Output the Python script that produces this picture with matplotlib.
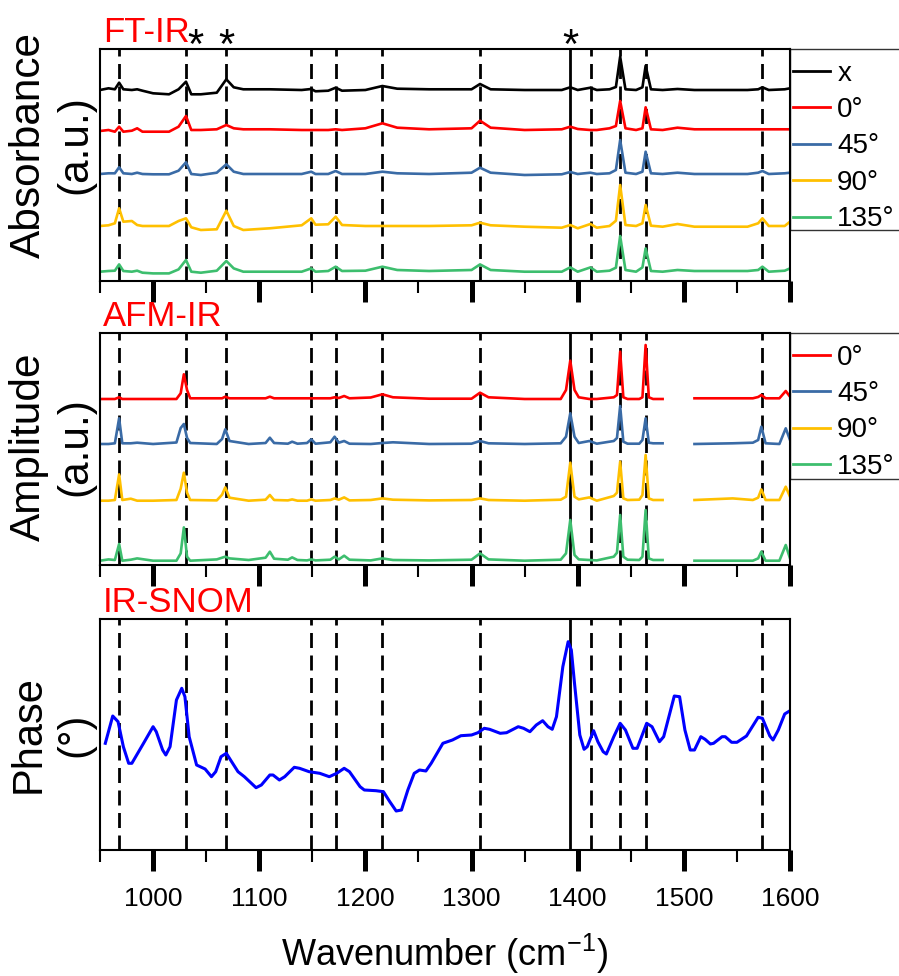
"""
plot.py
--------
Polarisation-dependent vibrational spectra: FT-IR absorbance, AFM-IR amplitude
and IR-SNOM phase, stacked on a shared wavenumber axis.

Output: out.png
"""

import matplotlib
matplotlib.use("Agg")  # headless
import matplotlib.pyplot as plt
import matplotlib.transforms as mtransforms
from matplotlib.patches import Rectangle
from matplotlib.ticker import MultipleLocator
import numpy as np

plt.rcParams["font.family"] = ["Liberation Sans", "DejaVu Sans"]
plt.rcParams["mathtext.fontset"] = "custom"
plt.rcParams["mathtext.rm"] = "Liberation Sans"
plt.rcParams["mathtext.default"] = "regular"

NAN = float("nan")

# ──────────────────────────────────────────────
# FT-IR (absorbance above each trace's own baseline, a.u.)
# ──────────────────────────────────────────────
FTIR_WN = [950, 958, 964, 968, 972, 980, 985, 990, 1000, 1015,
           1024, 1031, 1036, 1045, 1060, 1069, 1076, 1085, 1110, 1140,
           1149, 1153, 1165, 1172, 1178, 1200, 1216, 1230, 1260, 1300,
           1308, 1318, 1350, 1385, 1393, 1400, 1412, 1418, 1430, 1436,
           1440, 1445, 1455, 1461, 1464, 1469, 1480, 1494, 1510, 1560,
           1570, 1574, 1580, 1595, 1600]

FTIR_X = [0, 1.7, 0.7, 7.3, 0.7, 0, 0.7, -0.7, -3.3, -4.3,
          0.7, 8.3, -4.3, -4.3, -2.7, 10.7, 2.7, 0.7, 0.7, 0,
          1, -1.3, -0.7, 2.3, -0.7, 0, 4, 1.3, 0.7, 0.7,
          6, 0.7, 0, 0, 2.7, 0, 2.3, 0, 0.7, 3,
          33.3, 0.7, 0, 2.7, 24.3, 0.7, 0, 1, 0, 0,
          0.7, 2.7, 0, 0.7, 1.7]
FTIR_0 = [-1, 0, -1.7, 3.3, -1.7, -0.7, 1.7, -1.7, -1.7, -1.7,
          3.3, 14, 0, 0, 0.7, 5, 1.7, 0.7, 0.7, 0,
          0, 0, 0, 0.7, 0, 1.7, 6.7, 2.3, 0.7, 1.7,
          9.3, 2.3, 0, 0.7, 3.3, 1, 0, 0, 1.7, 4,
          29, 1.7, 0, 1.7, 22.7, 0.7, 0, 2.3, 0.7, 0.7,
          0.7, 0.7, 0.7, 0.7, 0.7]
FTIR_45 = [0, 0.7, 0.7, 6.7, 0.7, 0, 1.3, 0, -0.3, -0.3,
           3.3, 11.7, 0, -1, 1.3, 9.7, 2.3, 0, 0, 0,
           2.3, 0, 0, 3, 0, 0, 2.3, 0.7, 0, 1.3,
           6.3, 1.3, -1, -0.3, 2, 0, 1.3, 0, 0.7, 4,
           34, 1.3, 0, 2.3, 22.3, 0.7, 0, 1.3, 0, 0,
           1.3, 3, 0, 0.7, 1.3]
FTIR_90 = [0, 0.7, 2.7, 17.7, 4.3, 5, 1, 0, 0, 0,
           5, 7.7, -1.3, -4, -3.3, 15.3, 0, -4, -2.3, 0.7,
           7.7, 1.3, 1.7, 9.3, 1, 0, 0, 0, 0, 0.7,
           3.3, 0.7, -0.7, -1.7, 1, -2.3, 2, -1.7, 0, 5.3,
           41, 1, 0, 2.7, 21, 0.3, -0.7, 2, -0.7, -0.7,
           2.7, 7.7, 0, 0, 4.3]
FTIR_135 = [0, 0.7, 1, 7.3, 0.7, 0, 1, -1, -1.7, -1.7,
            2.3, 11.7, 0, -1, 1, 10.7, 3.3, 0, 0, 0,
            3.3, 0, 0.7, 5, 0.7, 1, 5, 1.7, 0.7, 1.7,
            7.3, 1.7, 0, 0, 4.3, 0, 4.3, 0, 1, 4,
            35.7, 1.7, 0, 4.3, 23.3, 0.7, 0, 1.7, 0.7, 0.7,
            1.7, 5, 0, 1, 3.3]
FTIR_LABELS = ["x", "0°", "45°", "90°", "135°"]

# ──────────────────────────────────────────────
# AFM-IR (amplitude above baseline, a.u.; no data 1481-1509)
# ──────────────────────────────────────────────
AFM_WN = [950, 958, 964, 968, 971, 979, 985, 1000, 1022, 1026,
          1029, 1032, 1035, 1060, 1065, 1068, 1072, 1090, 1106, 1110,
          1114, 1127, 1131, 1136, 1145, 1149, 1153, 1167, 1171, 1175,
          1180, 1185, 1205, 1216, 1226, 1260, 1300, 1308, 1316, 1350,
          1384, 1389, 1393, 1397, 1401, 1411, 1418, 1434, 1437, 1440,
          1443, 1447, 1458, 1461, 1464, 1467, 1471, 1480, 1495, 1510,
          1546, 1565, 1570, 1573, 1577, 1590, 1596, 1600]

AFM_0 = [0, 0, 0, 1.7, 0, 0, 0, 0, 0, 5.7,
         24.7, 9, 0.7, 0.7, 0.7, 2.3, 0.7, 0.7, 0.7, 2.3,
         0.7, 0.7, 0.7, 0.7, 0.7, 0.7, 0.7, 0.7, 1.7, 1,
         3, 0.7, 1.5, 4.7, 1.7, 0.3, 0.3, 6.3, 1.7, 0,
         0, 9, 38.3, 9, 1.7, 0, 0, 1.7, 4, 47.3,
         1.7, 0, 0, 1.7, 54, 1.7, 0, 0, NAN, 0.7,
         0.7, 0.7, 2, 4, 0.7, 0.7, 8, 2.3]
AFM_45 = [0, 0, 0.7, 25.7, 0.7, 0.7, 1.3, 0, 1.5, 16,
          20, 6, 1, 0, 5, 14.7, 3, 0, 1, 6.3,
          1, 0.3, 2.3, 0.3, 1, 4.7, 0.3, 1.7, 7.3, 1.3,
          3, 0.3, 0, 1, 1.7, 0, 0.3, 3, 0.7, 0,
          0.7, 7.3, 30.7, 7.3, 1, 3, 0.3, 3, 6, 38,
          2.3, 0.3, 0.3, 4, 25.7, 1.3, 0.7, 0.7, NAN, 0,
          0.7, 1.3, 4, 17.3, 0.7, 0, 15.7, 4]
AFM_90 = [0, 0, 0.7, 26.3, 0.7, 2, 0, 0, 0.7, 12,
          28, 8, 0.7, 0.3, 6, 13.3, 3, 0, 1, 5.7,
          0.7, 0.3, 1.3, 0, 0, 1.3, 0, 0.7, 2.3, 1,
          3.3, 0.3, 0.7, 2.3, 1, 0.3, 0.7, 2.3, 0.7, 0,
          1, 4, 38, 4, 1.3, 3.3, 0, 4.7, 8, 39,
          2.3, 0.7, 1, 5.7, 45.7, 2.3, 0.7, 0.7, NAN, 0.7,
          2.3, 0.7, 3, 11.3, 0.7, 0.7, 14, 4]
AFM_135 = [0, 1.3, 0.7, 16.7, 0, 1, 2.3, 0, 0, 7.3,
           33.3, 4, 0, 1.3, 3, 4, 2.3, 0.7, 3, 9,
           2, 1, 3.3, 0.7, 0.3, 1.3, 0.3, 1, 4, 1.3,
           5, 1, 0.3, 2.3, 0.7, 0.3, 1, 7.3, 1.3, 0,
           1, 7.3, 40.7, 5.7, 1.3, 0.7, 0.3, 4, 8, 45.7,
           4, 1, 0.7, 4, 50.7, 2.3, 0.7, 0.7, NAN, 0,
           0, 0, 2.3, 9, 0, 0, 15.7, 2.3]
AFM_LABELS = ["0°", "45°", "90°", "135°"]

# ──────────────────────────────────────────────
# IR-SNOM phase
# ──────────────────────────────────────────────
SNOM_WN = [955, 962, 967, 972, 977, 980, 991, 1000, 1003, 1009,
           1012, 1016, 1022, 1027, 1030, 1034, 1041, 1049, 1055, 1059,
           1064, 1069, 1074, 1080, 1086, 1097, 1102, 1110, 1113, 1119,
           1124, 1133, 1138, 1147, 1157, 1166, 1173, 1180, 1185, 1195,
           1199, 1210, 1217, 1223, 1229, 1234, 1240, 1246, 1251, 1257,
           1262, 1273, 1282, 1290, 1300, 1306, 1312, 1317, 1327, 1333,
           1344, 1349, 1355, 1361, 1367, 1372, 1376, 1380, 1386, 1391,
           1394, 1397, 1402, 1406, 1409, 1415, 1419, 1424, 1427, 1434,
           1440, 1445, 1452, 1456, 1465, 1470, 1477, 1481, 1491, 1496,
           1501, 1506, 1510, 1516, 1520, 1525, 1528, 1536, 1539, 1545,
           1550, 1559, 1570, 1574, 1581, 1584, 1589, 1595, 1600]
SNOM_PHASE = [106.7, 134, 128.3, 103.3, 86.7, 86.7, 106.7, 123.3, 118.3, 100,
              95, 103.3, 150, 161.7, 153.3, 113.3, 85, 81, 73.3, 78.3,
              93.3, 96.7, 88.3, 78.3, 73.3, 62.3, 65, 75, 75, 70,
              73.3, 82.7, 81.7, 78.3, 76.7, 73.3, 76.7, 81.7, 78.3, 63.3,
              60, 59.3, 58.3, 48.3, 39, 40, 60, 76.7, 80, 79,
              86.7, 106.7, 110, 114.3, 115, 117.3, 121.7, 120.7, 116.7, 117.3,
              123.3, 121.7, 118.3, 125, 129.3, 123.3, 120.7, 133.3, 183.3, 208.3,
              200, 166.7, 115, 100.7, 103.3, 119.3, 108.3, 98.3, 96, 113.3,
              126.7, 120, 101.7, 101.7, 126.7, 123.3, 108.3, 113.3, 154, 153.3,
              120, 100, 100, 113.3, 110.7, 106, 106.7, 113.3, 113.3, 107.7,
              107.7, 114, 132.7, 131.7, 114, 110, 120, 136, 139.3]

# Band positions marked across all panels
BAND_LINES = [968, 1031, 1069, 1149, 1172, 1216, 1308, 1413, 1440, 1464, 1574]
BAND_SOLID = 1393
STAR_BANDS = [1040, 1069, 1393]

# ──────────────────────────────────────────────
# Layout / style
# ──────────────────────────────────────────────
COLORS = {
    "x":    "#000000",
    "0°":   "#FF0000",
    "45°":  "#3A6BA6",
    "90°":  "#FFC000",
    "135°": "#3DBE6E",
}
FTIR_OFFSETS = [191, 151, 107, 55, 9.3]
AFM_OFFSETS = [166, 121, 64.3, 4.3]

FIG_W, FIG_H = 899, 976
AX_LEFT, AX_RIGHT = 100, 790
PANEL_Y = [(49, 281), (333, 565), (619, 850)]   # (top, bottom) in px


def px_axes(top, bottom):
    return [AX_LEFT / FIG_W, 1 - bottom / FIG_H,
            (AX_RIGHT - AX_LEFT) / FIG_W, (bottom - top) / FIG_H]


def style_axis(ax, ymax, show_labels):
    ax.set_xlim(950, 1600)
    ax.set_ylim(0, ymax)
    ax.xaxis.set_major_locator(MultipleLocator(100))
    ax.xaxis.set_minor_locator(MultipleLocator(50))
    ax.tick_params(axis="x", which="major", direction="out", length=15, width=3.6,
                   labelsize=19, pad=12, labelbottom=show_labels)
    ax.tick_params(axis="x", which="minor", direction="out", length=8.5, width=1.5)
    ax.tick_params(axis="y", left=False, labelleft=False)
    for spine in ax.spines.values():
        spine.set_linewidth(1.5)
        spine.set_color("black")

    for wn in BAND_LINES:
        ax.axvline(wn, color="black", lw=2.0, linestyle=(0, (5.4, 2.7)), zorder=1)
    ax.axvline(BAND_SOLID, color="black", lw=2.0, zorder=1)


def add_legend(ax, box_bottom):
    """Legend outside the right spine; the box runs on past the figure edge."""
    leg = ax.legend(loc="upper left", bbox_to_anchor=(1.0, 0.962), borderaxespad=0,
                    frameon=False, fontsize=20, handlelength=1.35,
                    handletextpad=0.25, labelspacing=0.376, borderpad=0.1)
    for line in leg.get_lines():
        line.set_linewidth(2.0)
    ax.add_patch(Rectangle((1.0, box_bottom), 0.3, 1.0 - box_bottom,
                           transform=ax.transAxes, fill=False,
                           edgecolor="#333333", lw=1.0, clip_on=False))
    return leg


fig = plt.figure(figsize=(FIG_W / 100, FIG_H / 100), dpi=100)
ax1 = fig.add_axes(px_axes(*PANEL_Y[0]))
ax2 = fig.add_axes(px_axes(*PANEL_Y[1]))
ax3 = fig.add_axes(px_axes(*PANEL_Y[2]))

# FT-IR
style_axis(ax1, 232, False)
for label, spec, off in zip(FTIR_LABELS, [FTIR_X, FTIR_0, FTIR_45, FTIR_90, FTIR_135], FTIR_OFFSETS):
    ax1.plot(FTIR_WN, np.array(spec) + off, color=COLORS[label], lw=1.9, label=label, zorder=2)
add_legend(ax1, 0.22)
ax1.set_ylabel("Absorbance\n(a.u.)", fontsize=30.5, linespacing=1.2)
ax1.yaxis.set_label_coords(-0.007, 0.588)

star_tf = mtransforms.blended_transform_factory(ax1.transData, ax1.transAxes)
for wn in STAR_BANDS:
    ax1.text(wn, 0.963, "*", transform=star_tf, ha="center", va="baseline",
             fontsize=30, color="black", clip_on=False)

# AFM-IR
style_axis(ax2, 232, False)
for label, spec, off in zip(AFM_LABELS, [AFM_0, AFM_45, AFM_90, AFM_135], AFM_OFFSETS):
    ax2.plot(AFM_WN, np.array(spec) + off, color=COLORS[label], lw=1.9, label=label, zorder=2)
add_legend(ax2, 0.371)
ax2.set_ylabel("Amplitude\n(a.u.)", fontsize=30.5, linespacing=1.2)
ax2.yaxis.set_label_coords(-0.007, 0.51)

# IR-SNOM
style_axis(ax3, 231, True)
ax3.plot(SNOM_WN, SNOM_PHASE, color="#0000FF", lw=2.2, zorder=2)
ax3.set_ylabel("Phase\n(°)", fontsize=30, linespacing=1.2)
ax3.yaxis.set_label_coords(-0.007, 0.5)

# Panel titles and axis label
for (top, _), title in zip(PANEL_Y, ["FT-IR", "AFM-IR", "IR-SNOM"]):
    fig.text(103 / FIG_W, 1 - (top - 7) / FIG_H, title, color="#FF0000",
             fontsize=25, ha="left", va="baseline")

fig.text(445 / FIG_W, 1 - 966 / FIG_H, "Wavenumber (cm$^{-1}$)",
         fontsize=26, ha="center", va="baseline")

fig.savefig("out.png", dpi=100, facecolor="white")
